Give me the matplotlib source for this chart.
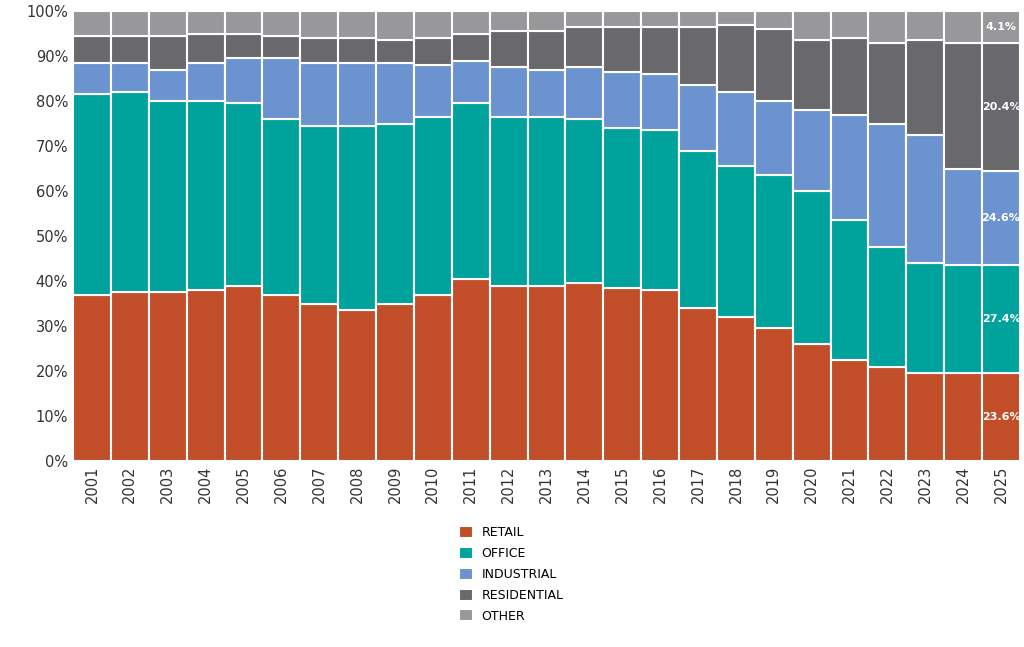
import matplotlib.pyplot as plt
import numpy as np

years = [str(y) for y in range(2001, 2026)]
# cumulative tops (percent)
retail_top = [37, 37.5, 37.5, 38, 39, 37, 35, 33.5, 35, 37, 40.5, 39, 39, 39.5, 38.5, 38, 34, 32, 29.5, 26, 22.5, 21, 19.5, 19.5, 19.5]
office_top = [81.5, 82, 80, 80, 79.5, 76, 74.5, 74.5, 75, 76.5, 79.5, 76.5, 76.5, 76, 74, 73.5, 69, 65.5, 63.5, 60, 53.5, 47.5, 44, 43.5, 43.5]
industrial_top = [88.5, 88.5, 87, 88.5, 89.5, 89.5, 88.5, 88.5, 88.5, 88, 89, 87.5, 87, 87.5, 86.5, 86, 83.5, 82, 80, 78, 77, 75, 72.5, 65, 64.5]
residential_top = [94.5, 94.5, 94.5, 95, 95, 94.5, 94, 94, 93.5, 94, 95, 95.5, 95.5, 96.5, 96.5, 96.5, 96.5, 97, 96, 93.5, 94, 93, 93.5, 93, 93]
labels_2025 = ["23.6%", "27.4%", "24.6%", "20.4%", "4.1%"]

names = ["RETAIL", "OFFICE", "INDUSTRIAL", "RESIDENTIAL", "OTHER"]
colors = ["#C14E28", "#00A39C", "#6B93CF", "#68686D", "#98989B"]

tops = np.array([retail_top, office_top, industrial_top, residential_top, [100] * 25])
bottoms = np.vstack([np.zeros(25), tops[:-1]])

fig = plt.figure(figsize=(10.24, 6.47), dpi=100)
ax = fig.add_axes([73 / 1024, 1 - 461 / 647, 947 / 1024, 450 / 647])
x = np.arange(25)
handles = []
for i in range(5):
    h = ax.bar(x, tops[i] - bottoms[i], bottom=bottoms[i], width=1.0, color=colors[i],
               edgecolor="white", linewidth=1.5, label=names[i])
    handles.append(h)

for i in range(5):
    mid = (tops[i][-1] + bottoms[i][-1]) / 2
    ax.text(24, mid, labels_2025[i], color="white", fontsize=8, fontweight="bold",
            ha="center", va="center")

ax.set_xlim(-0.5, 24.5)
ax.set_ylim(0, 100)
ax.set_xticks(x)
ax.set_xticklabels(years, rotation=90, fontsize=10.5, color="#333333")
ax.set_yticks(range(0, 101, 10))
ax.set_yticklabels([f"{v}%" for v in range(0, 101, 10)], fontsize=10.5, color="#333333")
ax.tick_params(length=0)
for s in ax.spines.values():
    s.set_visible(False)

fig.legend(handles=handles, labels=names, loc="upper left", bbox_to_anchor=(448 / 1024, 1 - 515 / 647),
           frameon=False, fontsize=9, handlelength=1.1, handleheight=1.1, labelspacing=0.6,
           handletextpad=0.7)

fig.savefig("out.png", dpi=100)
